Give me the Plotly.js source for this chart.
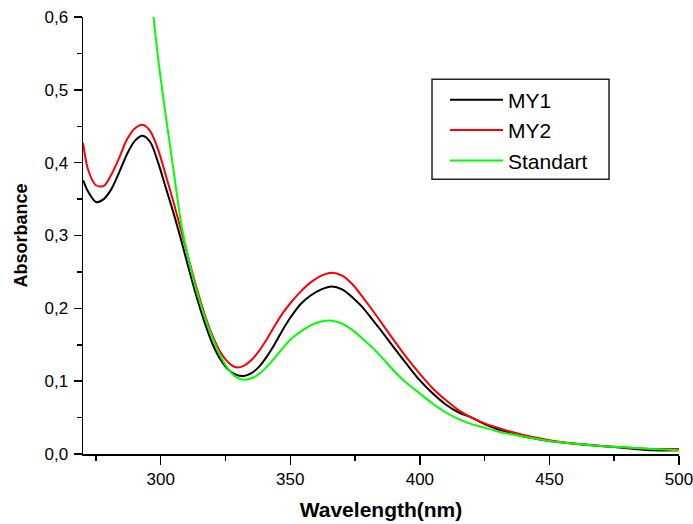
<!DOCTYPE html>
<html>
<head>
<meta charset="utf-8">
<script src="https://cdn.plot.ly/plotly-3.0.1.min.js"></script>
<style>html,body{margin:0;padding:0;background:#fff;}#chart{width:693px;height:524px;}</style>
</head>
<body>
<div id="chart"></div>
<script>
// Wavelength grid (nm)
const wavelength = [270,272,275,278,281,284,287,290,293,296,299,302,305,308,311,314,317,320,323,326,329,332,335,338,341,344,347,350,354,358,362,366,370,374,378,382,386,390,395,400,405,410,415,420,425,430,440,450,460,470,480,490,500];

const my1 = [0.376,0.360,0.346,0.350,0.364,0.387,0.412,0.430,0.437,0.428,0.400,0.365,0.330,0.292,0.252,0.214,0.180,0.151,0.130,0.116,0.109,0.107,0.111,0.120,0.134,0.151,0.170,0.187,0.206,0.218,0.226,0.230,0.226,0.215,0.201,0.183,0.165,0.146,0.123,0.101,0.083,0.068,0.057,0.050,0.041,0.034,0.024,0.018,0.014,0.011,0.008,0.005,0.005];

const my2 = [0.427,0.390,0.369,0.368,0.384,0.407,0.432,0.447,0.452,0.443,0.418,0.382,0.345,0.305,0.265,0.226,0.191,0.162,0.140,0.126,0.119,0.121,0.129,0.142,0.158,0.176,0.193,0.207,0.223,0.236,0.245,0.249,0.245,0.233,0.215,0.196,0.176,0.156,0.132,0.110,0.090,0.074,0.060,0.050,0.042,0.036,0.026,0.019,0.014,0.011,0.009,0.007,0.007];

const standart = [null,null,null,null,null,null,null,null,null,0.640,0.543,0.463,0.388,0.314,0.264,0.222,0.188,0.159,0.135,0.117,0.106,0.102,0.104,0.110,0.120,0.132,0.145,0.157,0.168,0.177,0.182,0.183,0.179,0.170,0.158,0.145,0.130,0.114,0.097,0.083,0.069,0.057,0.048,0.041,0.036,0.031,0.024,0.018,0.014,0.011,0.009,0.007,0.005];

const seriesNames = ['MY1','MY2','Standart'];
const seriesColors = ['#000000','#ff0000','#00ff00'];
const seriesValues = [my1, my2, standart];

const traces = seriesValues.map((vals, i) => ({
  x: wavelength,
  y: vals,
  type: 'scatter',
  mode: 'lines',
  name: seriesNames[i],
  line: {color: seriesColors[i], width: 2, shape: 'spline', smoothing: 0.8},
  connectgaps: false
}));

const FONT = 'Liberation Sans, Arial, sans-serif';
const axisFont = {family: FONT, size: 17, color: '#000'};

const layout = {
  width: 693,
  height: 524,
  separators: ', ',
  paper_bgcolor: '#fff',
  plot_bgcolor: 'rgba(0,0,0,0)',
  margin: {l: 83, r: 14, t: 17, b: 70},
  showlegend: true,
  // legend frame
  shapes: [{
    type: 'rect', xref: 'paper', yref: 'paper', layer: 'above',
    x0: 0.5856, x1: 0.8826, y0: 0.6286, y1: 0.8574,
    fillcolor: '#ffffff', line: {color: '#222', width: 1.5}
  }],
  legend: {
    x: 0.6074, y: 0.8566, xanchor: 'left', yanchor: 'top',
    bgcolor: 'rgba(0,0,0,0)', borderwidth: 0,
    font: {family: FONT, size: 21, color: '#000'},
    itemwidth: 53,
    tracegroupgap: 0
  },
  xaxis: {
    range: [270, 500],
    tick0: 300, dtick: 50,
    ticks: 'outside', ticklen: 9, tickwidth: 1.5, tickcolor: '#000',
    ticklabeloverflow: 'allow',
    minor: {ticks: 'outside', ticklen: 5, tickwidth: 1.5, tickcolor: '#000', dtick: 25, tick0: 275, showgrid: false},
    showline: true, linecolor: '#000', linewidth: 1.5,
    showgrid: false, zeroline: false,
    tickfont: axisFont,
    title: {text: '<b>Wavelength(nm)</b>', font: {family: FONT, size: 21, color: '#000'}, standoff: 14}
  },
  yaxis: {
    range: [0, 0.6],
    dtick: 0.1, tickformat: '.1f',
    ticks: 'outside', ticklen: 8, tickwidth: 1.5, tickcolor: '#000',
    ticklabelstandoff: 2,
    minor: {ticks: 'outside', ticklen: 5, tickwidth: 1.5, tickcolor: '#000', dtick: 0.05, showgrid: false},
    showline: true, linecolor: '#000', linewidth: 1.5,
    showgrid: false, zeroline: false,
    tickfont: axisFont,
    title: {text: '<b>Absorbance</b>', font: {family: FONT, size: 18, color: '#000'}, standoff: 12}
  }
};

Plotly.newPlot('chart', traces, layout, {displayModeBar: false, staticPlot: true});
</script>
</body>
</html>
